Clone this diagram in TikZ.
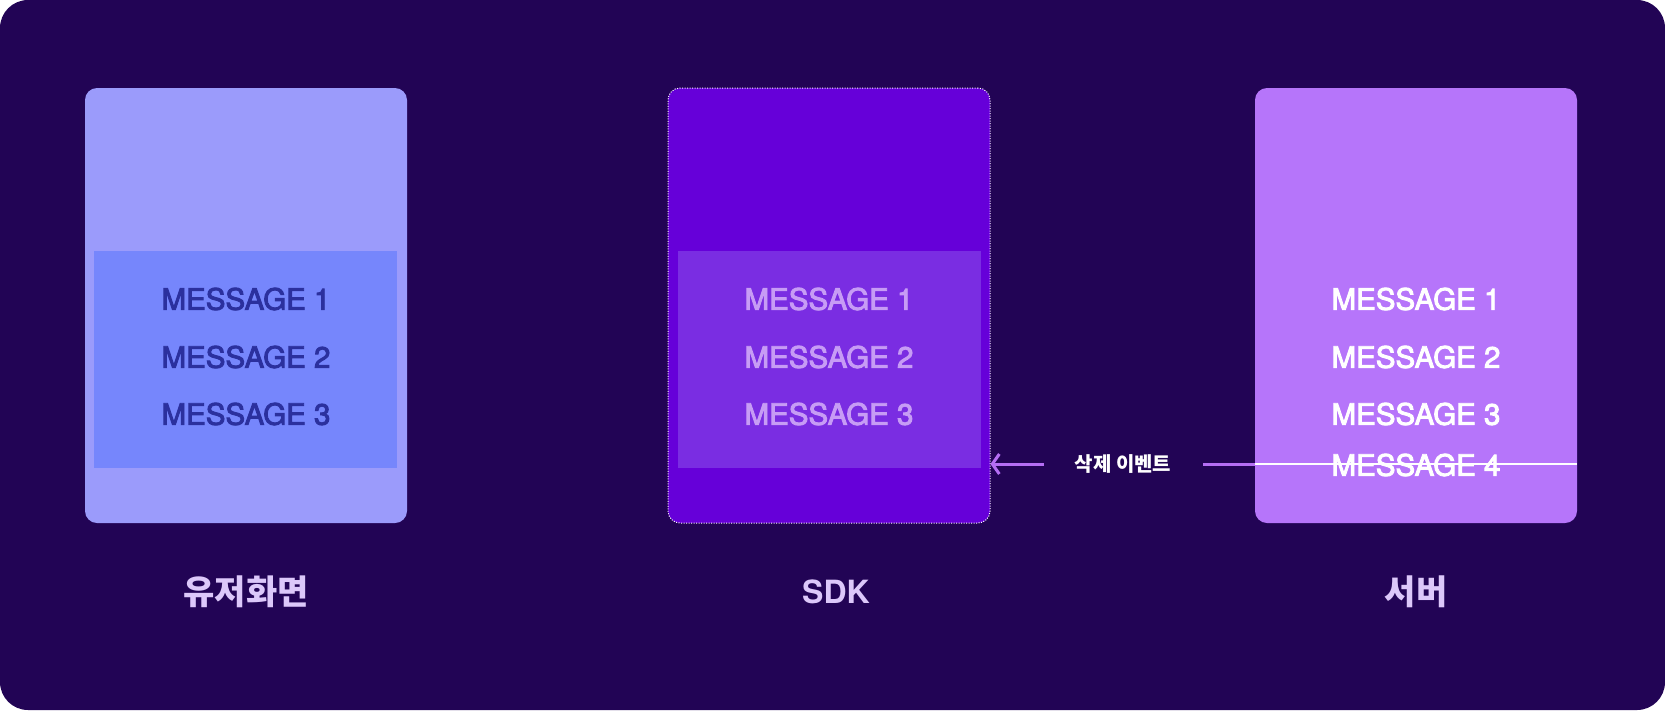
\documentclass[tikz,border=0pt]{standalone}
\usepackage{fontspec}
\setmainfont{TeX Gyre Heros}
\newfontfamily\msgfont[FakeBold=3]{TeX Gyre Heros}
\newfontfamily\kor{Noto Sans CJK KR}
\usetikzlibrary{arrows.meta}
\definecolor{bgdark}{HTML}{220455}
\definecolor{userfill}{HTML}{9B9BFB}
\definecolor{userband}{HTML}{7686FC}
\definecolor{usertext}{HTML}{2B309E}
\definecolor{sdkfill}{HTML}{6600D9}
\definecolor{sdkband}{HTML}{7A2DE2}
\definecolor{sdktext}{HTML}{C79CF5}
\definecolor{srvfill}{HTML}{B675FA}
\definecolor{evpurple}{HTML}{B56EF4}
\definecolor{captext}{HTML}{DCC8FA}

\begin{document}
\begin{tikzpicture}
    [x=1pt,y=-1pt,
      panel/.style={minimum width=322pt,minimum height=435pt,rounded corners=12pt,inner sep=0pt},
      band/.style={minimum width=303pt,minimum height=217pt,inner sep=0pt},
      msg/.style={font=\msgfont\fontsize{29.5}{31}\selectfont},
      caption/.style={font=\kor\bfseries\fontsize{34}{36}\selectfont,text=captext},
    ]
    \useasboundingbox (0,0) rectangle (1665,710);
    \fill [bgdark,rounded corners=28pt] (0,0) rectangle (1665,710);

    % user screen
    \node [panel,fill=userfill] (user) at (246,305.5) {};
    \node [band,fill=userband] (userlist) at (245.5,359.5) {};
    \node [msg,text=usertext] (u1) at (246,299) {MESSAGE 1};
    \node [msg,text=usertext] (u2) at (246,357) {MESSAGE 2};
    \node [msg,text=usertext] (u3) at (246,414) {MESSAGE 3};
    \node [caption] (usercap) at (246,592) {유저화면};

    % sdk
    \node [panel,fill=sdkfill,draw=white,line width=1pt,dash pattern=on 1pt off 1.5pt] (sdk) at (829,305.5) {};
    \node [band,fill=sdkband] (sdklist) at (829.5,359.5) {};
    \node [msg,text=sdktext] (s1) at (829,299) {MESSAGE 1};
    \node [msg,text=sdktext] (s2) at (829,357) {MESSAGE 2};
    \node [msg,text=sdktext] (s3) at (829,414) {MESSAGE 3};
    \node [caption,font=\bfseries\fontsize{32}{34}\selectfont] (sdkcap) at (836,592) {SDK};

    % server
    \node [panel,fill=srvfill] (srv) at (1416,305.5) {};
    \node [msg,text=white] (v1) at (1416,299) {MESSAGE 1};
    \node [msg,text=white] (v2) at (1416,357) {MESSAGE 2};
    \node [msg,text=white] (v3) at (1416,414) {MESSAGE 3};
    \node [msg,text=white] (v4) at (1416,465) {MESSAGE 4};
    \node [caption] (srvcap) at (1416,592) {서버};

    % delete event
    \node [font=\kor\bfseries\fontsize{20}{22}\selectfont,text=white,inner xsep=31pt] (evt) at (1123,464) {삭제 이벤트};
    \draw [evpurple,line width=3pt,-{Straight Barb[length=7pt,width=20pt]}] (evt.west) -- (sdk.east |- evt);
    \draw [evpurple,line width=3pt] (srv.west |- evt) -- (evt.east);
    \draw [white,line width=2.5pt] (srv.west |- evt) -- (srv.east |- evt);
  \end{tikzpicture}
\end{document}
